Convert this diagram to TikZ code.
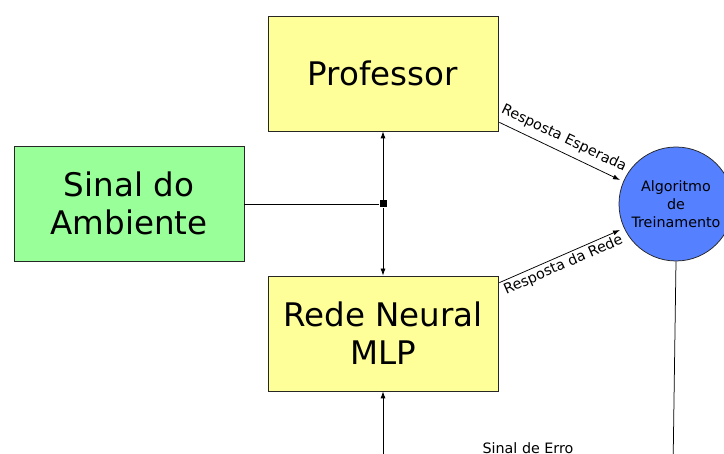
\documentclass[tikz,border=0pt]{standalone}
\usepackage{fontspec}
\setmainfont{DejaVu Sans}
\usetikzlibrary{arrows.meta}
\definecolor{boxyellow}{RGB}{255,255,153}
\definecolor{boxgreen}{RGB}{153,255,153}
\definecolor{algblue}{RGB}{85,128,255}
\tikzset{every picture/.style={line width=0.75pt}}
\tikzset{
  bigbox/.style={draw=black!85, minimum width=230pt, minimum height=115pt, inner sep=0pt, align=center, font=\fontsize{32.5}{38}\selectfont},
  smalltext/.style={font=\fontsize{14.3}{18}\selectfont},
  arr/.style={-{Latex[length=7pt,width=5pt]}},
}
\begin{document}
\begin{tikzpicture}[x=1pt,y=1pt,yscale=-1,xscale=1]
\useasboundingbox (0,0) rectangle (724,454);
%Shape: Rectangle [id:professor]
\node [bigbox, fill=boxyellow] (prof) at (383,73.5) {Professor};
%Shape: Rectangle [id:ambiente]
\node [bigbox, fill=boxgreen] (amb) at (129,203.5) {Sinal do\\Ambiente};
%Shape: Rectangle [id:rede]
\node [bigbox, fill=boxyellow] (rede) at (383,333.5) {Rede Neural\\MLP};
%Shape: Circle [id:algoritmo]
\node [circle, draw=black!85, fill=algblue, minimum size=114pt, inner sep=0pt, align=center, smalltext] (alg) at (676,204) {Algoritmo\\de\\Treinamento};
%Shape: Square [id:juncao]
\node [fill=black, minimum size=7pt, inner sep=0pt] (jct) at (383,204) {};
% free ends below the picture
\coordinate (erro) at (673,470);
\coordinate (entrada) at (383,470);
%Straight Lines
\draw (amb.east |- jct) -- (jct);
\draw [arr] (jct) -- (prof.south);
\draw [arr] (jct) -- (rede.north);
%Straight Lines with labels
\draw [arr] (prof.south east) ++(1,-9) coordinate (pe) -- (620,180) coordinate (ae);
\draw [arr] (rede.north east) ++(1,7) coordinate (re) -- (620,230) coordinate (ar);
% Text Node
\node [smalltext, rotate=-25.6, inner sep=0pt] (lblesp) at (564,138.5) {Resposta Esperada};
% Text Node
\node [smalltext, rotate=23.7, inner sep=0pt] (lblrede) at (563.5,265) {Resposta da Rede};
\draw (alg.south) -- (erro);
\draw [arr] (entrada) -- (rede.south);
% Text Node
\node [smalltext, anchor=base] (sinalerro) at (528,454) {Sinal de Erro};
\end{tikzpicture}
\end{document}
